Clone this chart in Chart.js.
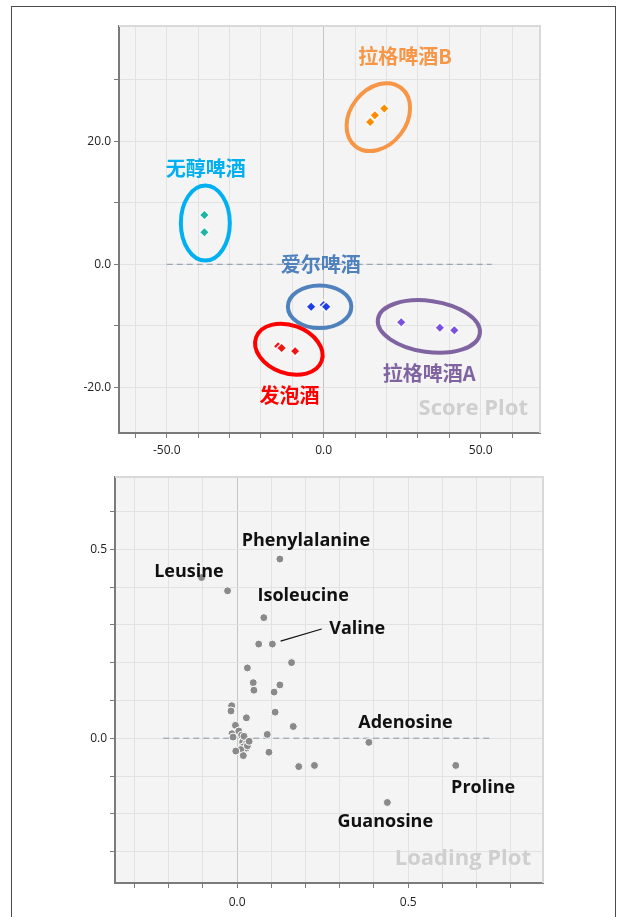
<!DOCTYPE html>
<html>
<head>
<meta charset="utf-8">
<script src="https://cdn.jsdelivr.net/npm/chart.js@4.4.1/dist/chart.umd.min.js"></script>
<style>
  html, body { margin: 0; padding: 0; background: #fff; }
  #frame { position: absolute; left: 11px; top: 6px; width: 603px; height: 940px; border: 1.5px solid #4a4a4a; }
  canvas { position: absolute; left: 0; }
  #score { top: 0; }
  #loading { top: 462px; }
</style>
</head>
<body>
<div id="frame"></div>
<canvas id="score" width="617" height="462"></canvas>
<canvas id="loading" width="617" height="455"></canvas>
<script>
// score plot: PC1 / PC2 per beer type
const groupNames = ['无醇啤酒', '拉格啤酒B', '爱尔啤酒', '发泡酒', '拉格啤酒A'];
const nonAlcoholX = [-38.0, -38.0];
const nonAlcoholY = [8.0, 5.2];
const lagerBX = [14.8, 16.3, 19.3];
const lagerBY = [23.1, 24.2, 25.3];
const aleX = [-4.0, 0.0, 0.8];
const aleY = [-6.9, -6.6, -6.9];
const happoshuX = [-14.5, -13.4, -9.1];
const happoshuY = [-13.3, -13.6, -14.1];
const lagerAX = [24.7, 37.0, 41.6];
const lagerAY = [-9.4, -10.3, -10.7];

// loading plot: one point per metabolite
const loadingX = [0.125, -0.104, -0.028, 0.078, 0.063, 0.103, 0.159, 0.030, 0.047, 0.125,
  0.049, 0.108, -0.016, -0.018, 0.111, 0.027, 0.164, -0.005, -0.015, 0.005,
  0.013, -0.012, 0.023, 0.016, 0.027, 0.018, 0.027, 0.011, -0.004, 0.018,
  0.030, 0.020, 0.035, 0.088, 0.093, 0.180, 0.226, 0.385, 0.639, 0.439];
const loadingY = [0.474, 0.425, 0.390, 0.319, 0.249, 0.249, 0.200, 0.186, 0.147, 0.141,
  0.127, 0.122, 0.086, 0.072, 0.069, 0.054, 0.031, 0.034, 0.012, 0.019,
  0.008, 0.003, -0.001, -0.010, -0.014, -0.023, -0.026, -0.030, -0.034, -0.046,
  -0.020, 0.005, -0.008, 0.010, -0.037, -0.075, -0.072, -0.011, -0.072, -0.170];

const scoreXTicks = [-50, 0, 50];
const scoreYTicks = [-20, 0, 20];
const loadingXTicks = [0, 0.5];
const loadingYTicks = [0, 0.5];

Chart.defaults.font.family = "'Open Sans', sans-serif";

const zip = (xs, ys) => xs.map((x, i) => ({ x, y: ys[i] }));

// grey plot background, light top/right edge and the dashed zero line
const plotFrame = {
  id: 'plotFrame',
  beforeDraw(chart) {
    const a = chart.chartArea, ctx = chart.ctx;
    ctx.save();
    ctx.fillStyle = '#f4f4f4';
    ctx.fillRect(a.left, a.top, a.right - a.left, a.bottom - a.top);
    ctx.restore();
  },
  beforeDatasetsDraw(chart, args, opts) {
    const a = chart.chartArea, ctx = chart.ctx;
    const xs = chart.scales.x, ys = chart.scales.y;
    ctx.save();
    ctx.strokeStyle = '#d9d9d9';
    ctx.lineWidth = 2;
    ctx.beginPath();
    ctx.moveTo(a.left, a.top);
    ctx.lineTo(a.right, a.top);
    ctx.lineTo(a.right, a.bottom);
    ctx.stroke();
    ctx.strokeStyle = '#8796a8';
    ctx.lineWidth = 1;
    ctx.setLineDash([6, 4]);
    ctx.beginPath();
    ctx.moveTo(xs.getPixelForValue(opts.zeroFrom), ys.getPixelForValue(0));
    ctx.lineTo(xs.getPixelForValue(opts.zeroTo), ys.getPixelForValue(0));
    ctx.stroke();
    ctx.restore();
  }
};

// group ellipses (centre and radii in data units, tilt in degrees)
const groupEllipses = {
  id: 'groupEllipses',
  beforeDatasetsDraw(chart, args, opts) {
    if (!opts.items) return;
    const ctx = chart.ctx, xs = chart.scales.x, ys = chart.scales.y;
    const kx = Math.abs(xs.getPixelForValue(1) - xs.getPixelForValue(0));
    const ky = Math.abs(ys.getPixelForValue(1) - ys.getPixelForValue(0));
    ctx.save();
    opts.items.forEach(e => {
      ctx.beginPath();
      ctx.ellipse(xs.getPixelForValue(e.cx), ys.getPixelForValue(e.cy),
        e.rx * kx, e.ry * ky, e.tilt * Math.PI / 180, 0, Math.PI * 2);
      ctx.strokeStyle = e.color;
      ctx.lineWidth = 4;
      ctx.stroke();
    });
    ctx.restore();
  }
};

// text annotations, leader lines and the corner watermark
const textMarks = {
  id: 'textMarks',
  afterDatasetsDraw(chart, args, opts) {
    const ctx = chart.ctx, xs = chart.scales.x, ys = chart.scales.y, a = chart.chartArea;
    ctx.save();
    (opts.leaders || []).forEach(l => {
      ctx.strokeStyle = '#111';
      ctx.lineWidth = 1.2;
      ctx.beginPath();
      ctx.moveTo(xs.getPixelForValue(l[0]), ys.getPixelForValue(l[1]));
      ctx.lineTo(xs.getPixelForValue(l[2]), ys.getPixelForValue(l[3]));
      ctx.stroke();
    });
    ctx.textAlign = 'center';
    ctx.textBaseline = 'middle';
    (opts.items || []).forEach(t => {
      ctx.font = opts.font;
      ctx.fillStyle = t.color || '#111';
      ctx.fillText(t.text, xs.getPixelForValue(t.x), ys.getPixelForValue(t.y));
    });
    ctx.font = "bold 22px 'Open Sans', sans-serif";
    ctx.fillStyle = '#cfcfcf';
    ctx.textAlign = 'right';
    ctx.fillText(opts.watermark, a.right - 12, a.bottom - 24);
    ctx.restore();
  }
};

function axis(min, max, step, shown, size, horizontal, pad) {
  return {
    type: 'linear',
    min, max,
    afterFit: s => { if (horizontal) s.height = size; else s.width = size; },
    border: { color: '#7b7b7b', width: 2 },
    grid: {
      color: c => (horizontal && c.tick && Math.abs(c.tick.value) < 1e-9) ? '#c4c4c4' : '#e2e2e2',
      lineWidth: 1,
      tickColor: '#7b7b7b',
      tickLength: 5
    },
    ticks: {
      stepSize: step,
      includeBounds: false,
      autoSkip: false,
      maxRotation: 0,
      padding: pad,
      color: '#222',
      font: { size: 12 },
      callback: v => shown.some(t => Math.abs(t - v) < step / 100)
        ? (Math.abs(v) < 1e-9 ? 0 : v).toFixed(1) : ''
    }
  };
}

const scoreColors = ['#1fb5a6', '#ff8c00', '#1d3de6', '#f01414', '#7b50e0'];
const scoreSets = [
  zip(nonAlcoholX, nonAlcoholY),
  zip(lagerBX, lagerBY),
  zip(aleX, aleY),
  zip(happoshuX, happoshuY),
  zip(lagerAX, lagerAY)
];

new Chart(document.getElementById('score').getContext('2d'), {
  type: 'scatter',
  data: {
    datasets: scoreSets.map((pts, i) => ({
      label: groupNames[i],
      data: pts,
      pointStyle: 'rectRot',
      pointRadius: 5,
      backgroundColor: scoreColors[i],
      borderColor: 'rgba(255,255,255,0.9)',
      borderWidth: 1.5
    }))
  },
  options: {
    responsive: false,
    animation: false,
    layout: { padding: { top: 26, right: 77, bottom: 0, left: 0 } },
    scales: {
      x: axis(-65.2, 68.9, 10, scoreXTicks, 29, true, 5),
      y: axis(-27.4, 38.7, 10, scoreYTicks, 119, false, 3)
    },
    plugins: {
      legend: { display: false },
      tooltip: { enabled: false },
      plotFrame: { zeroFrom: -50, zeroTo: 53.5 },
      groupEllipses: {
        items: [
          { cx: -37.7, cy: 6.7, rx: 7.8, ry: 6.1, tilt: 0, color: '#00b0f0' },
          { cx: 17.4, cy: 23.9, rx: 11.8, ry: 4.55, tilt: -52, color: '#f79646' },
          { cx: -1.3, cy: -6.9, rx: 10.1, ry: 3.46, tilt: 0, color: '#4f81bd' },
          { cx: -11.1, cy: -13.8, rx: 11.1, ry: 3.9, tilt: 20, color: '#ff0000' },
          { cx: 33.5, cy: -10.1, rx: 16.4, ry: 4.15, tilt: 8, color: '#8064a2' }
        ]
      },
      textMarks: {
        font: "bold 20px 'Noto Sans CJK SC', sans-serif",
        watermark: 'Score Plot',
        items: [
          { text: groupNames[0], x: -37.6, y: 15.6, color: '#00b0f0' },
          { text: groupNames[1], x: 25.9, y: 33.7, color: '#f79646' },
          { text: groupNames[2], x: -0.9, y: -0.1, color: '#4f81bd' },
          { text: groupNames[3], x: -10.9, y: -21.3, color: '#ff0000' },
          { text: groupNames[4], x: 33.6, y: -17.8, color: '#8064a2' }
        ]
      }
    }
  },
  plugins: [plotFrame, groupEllipses, textMarks]
});

new Chart(document.getElementById('loading').getContext('2d'), {
  type: 'scatter',
  data: {
    datasets: [{
      label: 'Loading',
      data: zip(loadingX, loadingY),
      pointRadius: 4,
      backgroundColor: '#8a8a8a',
      borderColor: '#ffffff',
      borderWidth: 1
    }]
  },
  options: {
    responsive: false,
    animation: false,
    layout: { padding: { top: 15, right: 74, bottom: 0, left: 0 } },
    scales: {
      x: axis(-0.357, 0.894, 0.1, loadingXTicks, 34, true, 7),
      y: axis(-0.383, 0.691, 0.1, loadingYTicks, 115, false, 3)
    },
    plugins: {
      legend: { display: false },
      tooltip: { enabled: false },
      plotFrame: { zeroFrom: -0.216, zeroTo: 0.749 },
      textMarks: {
        font: "bold 18px 'Open Sans', sans-serif",
        watermark: 'Loading Plot',
        leaders: [[0.127, 0.257, 0.247, 0.289]],
        items: [
          { text: 'Phenylalanine', x: 0.201, y: 0.523 },
          { text: 'Leusine', x: -0.141, y: 0.440 },
          { text: 'Isoleucine', x: 0.193, y: 0.376 },
          { text: 'Valine', x: 0.351, y: 0.289 },
          { text: 'Adenosine', x: 0.492, y: 0.041 },
          { text: 'Proline', x: 0.719, y: -0.132 },
          { text: 'Guanosine', x: 0.433, y: -0.222 }
        ]
      }
    }
  },
  plugins: [plotFrame, groupEllipses, textMarks]
});
</script>
</body>
</html>
